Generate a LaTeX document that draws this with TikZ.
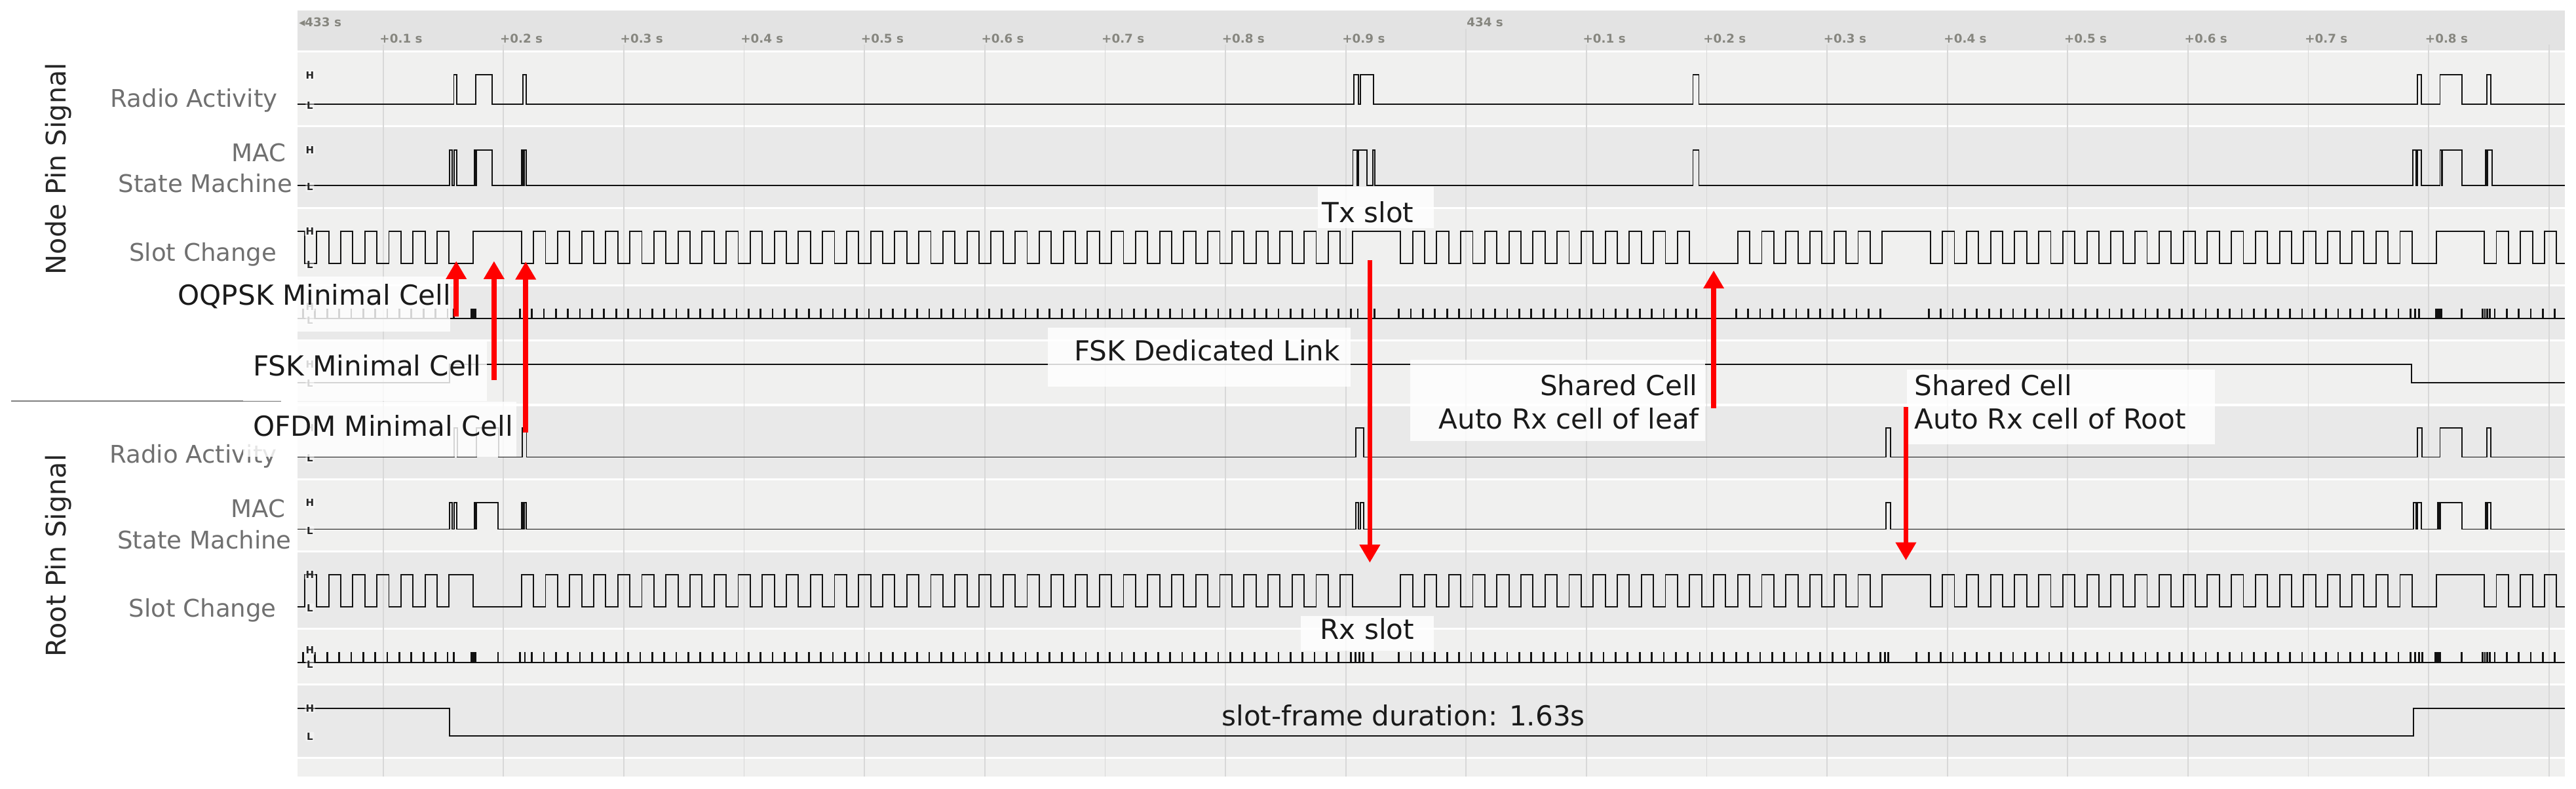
\documentclass[tikz,border=0pt]{standalone}
\usepackage{fontspec}
\setmainfont{DejaVu Sans}
\usetikzlibrary{arrows.meta}
\definecolor{laneL}{HTML}{F0F0EF}
\definecolor{laneD}{HTML}{E9E9E9}
\definecolor{hdr}{HTML}{E3E3E3}
\definecolor{gridc}{HTML}{D8D8D8}
\definecolor{ticklab}{HTML}{86867F}
\definecolor{lanelab}{HTML}{707070}
\definecolor{sigc}{HTML}{111111}
\definecolor{anntext}{HTML}{1A1A1A}
\definecolor{sepc}{HTML}{808080}
\tikzset{
 sig/.style={draw=sigc, line width=0.75pt, line join=miter},
 tk/.style={draw=sigc, line width=1.1pt},
 gridl/.style={draw=gridc, line width=0.7pt},
 tlab/.style={font=\fontsize{7.3}{8}\selectfont\bfseries, text=ticklab, inner sep=0pt, anchor=base west},
 llab/.style={font=\fontsize{14.8}{17}\selectfont, text=lanelab, inner sep=0pt, anchor=base east},
 rlab/.style={font=\fontsize{16.5}{19}\selectfont, text=black!85, inner sep=0pt, rotate=90, anchor=base},
 hl/.style={font=\fontsize{6}{7}\selectfont\bfseries, text=black!85, inner sep=0.7pt, fill=white, fill opacity=0.45, text opacity=1, rounded corners=0.8pt},
 annbox/.style={fill=white, fill opacity=0.82},
 anntxt/.style={font=\fontsize{16.8}{20}\selectfont, text=anntext, inner sep=0pt},
 redarr/.style={draw=red, line width=3pt, -{Triangle[width=12pt,length=11pt]}},
}
\begin{document}
\begin{tikzpicture}[x=1pt,y=-1pt]
\useasboundingbox (0,0) rectangle (1568,480.24);
\fill[white] (0,0) rectangle (1568,480.24);
% header and lanes
\fill[hdr] (181.1,6.4) rectangle (1561,30.6);
\foreach \a/\b/\c in {31.8/76.3/laneL, 77.5/126.1/laneD, 127.3/173.3/laneL, 174.5/206.8/laneD, 208.0/245.9/laneL, 247.1/291.2/laneD, 292.4/335.2/laneL, 336.4/382.3/laneD, 383.5/416.2/laneL, 417.4/460.6/laneD, 461.8/472.7/laneL}
  \fill[\c] (181.1,\a) rectangle (1561,\b);
% grid
\foreach \k in {1,...,9} \draw[gridl] ({160+73.24*\k},27.3) -- ({160+73.24*\k},472.7);
\foreach \k in {11,...,19} \draw[gridl] ({160+73.24*\k},27.3) -- ({160+73.24*\k},472.7);
\draw[gridl] (892.4,17.5) -- (892.4,472.7);
% time labels
\node[tlab] (t433) at (181.8,16.3) {◂433 s};
\node[tlab] (t434) at (892.6,16.3) {434 s};
\foreach \k in {1,...,9} \node[tlab] (ta\k) at ({160+73.24*\k-2.3},26.0) {+0.\k\ s};
\foreach \k in {1,...,8} \node[tlab] (tb\k) at ({892.4+73.24*\k-2.3},26.0) {+0.\k\ s};
% left labels
\node[rlab] (nps) at (40.2,102.7) {Node Pin Signal};
\node[rlab] (rps) at (40.2,338.2) {Root Pin Signal};
\draw[sepc, line width=1.1pt] (6.9,244.1) -- (171,244.1);
\node[llab] (ra1) at (169.2,65.2) {Radio Activity};
\node[llab] (mac1) at (174.3,98.4) {MAC};
\node[llab] (sm1) at (178.1,117.0) {State Machine};
\node[llab] (sc1) at (168.6,158.8) {Slot Change};
\node[llab] (ra2) at (168.7,281.9) {Radio Activity};
\node[llab] (mac2) at (173.7,315.1) {MAC};
\node[llab] (sm2) at (177.6,333.9) {State Machine};
\node[llab] (sc2) at (168.4,375.5) {Slot Change};
% ---------- signals ----------
% node radio activity
\draw[sig] (181.1,63.4) \foreach \a/\b in {276.2/278.0, 289.6/299.6, 318.3/320.4, 824.2/827.0, 828.2/836.2, 1030.5/1034.1, 1471.4/1473.7, 1485.2/1498.4, 1513.9/1516.0} { -| (\a,45.6) -| (\b,63.4) } -- (1561,63.4);
% node MAC
\draw[sig] (181.1,113.0) \foreach \a/\b in {273.6/275.3, 276.5/278.0, 288.8/289.6, 290.2/299.6, 317.4/318.2, 319.0/320.4, 823.5/826.0, 826.8/832.0, 835.8/836.8, 1030.5/1034.1, 1468.5/1470.5, 1471.3/1473.7, 1485.2/1486.0, 1486.7/1498.4, 1512.8/1513.6, 1514.3/1516.8} { -| (\a,91.3) -| (\b,113.0) } -- (1561,113.0);
% node slot change
\draw[sig] (181.1,140.9) \foreach \k [count=\i] in {-12,...,0,2,6,7,...,75,79,80,...,103,107,108,...,119,123,124,...,163,165,169,170,...,175} { -| ({273.4+7.33*\k},{140.9+19.4*mod(\i,2)}) } -- +(4.85,0);
% node ticks (OQPSK lane)
\draw[sig] (181.1,193.9) -- (1561,193.9);
\foreach \k in {-12,...,0,6,7,...,75,79,80,...,103,107,108,...,119,123,124,...,163,169,170,...,175}
  \draw[tk] ({272.4+7.33*\k},193.9) -- ({272.4+7.33*\k},187.7);
\foreach \x in {276.3,319.5,826.5,834.0,836.5,1032.5,1470.0,1472.5,1498.4,1512.5,1514.0,1515.5}
  \draw[tk] (\x,193.9) -- (\x,187.7);
\fill[sigc] (286.4,187.7) rectangle (290.0,193.9);
\fill[sigc] (1482.3,187.7) rectangle (1486.6,193.9);
% FSK lane
\draw[sig] (181.1,232.8) -| (273.5,221.8) -| (1468,232.8) -- (1561,232.8);
% root radio activity
\draw[sig] (181.1,278.2) \foreach \a/\b in {276.5/278.5, 290.0/303.5, 318.0/320.5, 825.3/829.9, 1148.0/1150.8, 1471.4/1474.2, 1485.2/1498.4, 1513.9/1516.0} { -| (\a,260.5) -| (\b,278.2) } -- (1561,278.2);
% root MAC
\draw[sig] (181.1,322.1) \foreach \a/\b in {273.6/275.3, 276.5/278.0, 288.8/289.6, 290.2/303.3, 317.4/318.2, 319.0/320.4, 825.3/827.0, 828.2/830.0, 1148.0/1150.8, 1469.1/1470.6, 1471.3/1473.7, 1483.7/1484.6, 1485.3/1498.4, 1512.8/1513.6, 1514.3/1516.0} { -| (\a,306.1) -| (\b,322.1) } -- (1561,322.1);
% root slot change
\draw[sig] (181.1,369.4) \foreach \k [count=\i] in {-12,...,0,2,6,7,...,75,79,80,...,119,123,124,...,163,165,169,170,...,175} { -| ({273.4+7.33*\k},{369.4-19.5*mod(\i,2)}) } -- +(4.85,0);
% root ticks
\draw[sig] (181.1,403.3) -- (1561,403.3);
\foreach \k in {-12,...,0,6,7,...,75,79,80,...,119,122,123,...,163,169,170,...,175}
  \draw[tk] ({272.4+7.33*\k},403.3) -- ({272.4+7.33*\k},396.9);
\foreach \x in {276.3,303.1,319.5,825.0,827.5,830.0,835.5,1147.5,1149.5,1470.0,1472.5,1474.5,1498.4,1512.5,1514.0,1515.5}
  \draw[tk] (\x,403.3) -- (\x,396.9);
\fill[sigc] (286.4,396.9) rectangle (290.0,403.3);
\fill[sigc] (1482.0,396.9) rectangle (1486.0,403.3);
% slot-frame lane
\draw[sig] (181.1,431.1) -| (273.6,447.9) -| (1469.1,431.1) -- (1561,431.1);
% H / L markers
\foreach \n/\h/\l in {1/45.7/64.4, 2/91.3/113.8, 3/140.9/161.0, 4/186.6/195.0, 5/221.8/233.4, 6/260.5/279.0, 7/306.1/322.9, 8/349.9/370.2, 9/395.8/404.4, 10/431.1/448.4}{
  \node[hl] (h\n) at (188.6,\h) {H};
  \node[hl] (l\n) at (188.6,\l) {L};
}
% ---------- annotation boxes ----------
\fill[annbox] (104,168.5) rectangle (274,202);
\fill[annbox] (148,206.8) rectangle (296.4,244.1);
\fill[annbox] (148,244.7) rectangle (314.2,277.9);
\fill[annbox] (638,199.4) rectangle (822,235.3);
\fill[annbox] (802.2,113.7) rectangle (872.8,138.9);
\fill[annbox] (858.4,219.1) rectangle (1037.7,268.6);
\fill[annbox] (1160.9,225.0) rectangle (1348,270.4);
\fill[annbox] (791.8,375.1) rectangle (872.6,395.9);
\node[anntxt, anchor=base east] (oqpsk) at (274.7,185.5) {OQPSK Minimal Cell};
\node[anntxt, anchor=base west] (fskmin) at (153.9,228.7) {FSK Minimal Cell};
\node[anntxt, anchor=base west] (ofdm) at (153.9,265.3) {OFDM Minimal Cell};
\node[anntxt, anchor=base east] (fskded) at (815.9,219.4) {FSK Dedicated Link};
\node[anntxt, anchor=base west] (txs) at (804.5,135.4) {Tx slot};
\node[anntxt, anchor=base east] (sl1) at (1033.5,240.6) {Shared Cell};
\node[anntxt, anchor=base east] (sl2) at (1034.4,260.9) {Auto Rx cell of leaf};
\node[anntxt, anchor=base west] (sr1) at (1165.2,240.7) {Shared Cell};
\node[anntxt, anchor=base west] (sr2) at (1165.2,260.9) {Auto Rx cell of Root};
\node[anntxt, anchor=base west] (rxs) at (803.4,389.0) {Rx slot};
\node[anntxt, anchor=base west] (sfd) at (743.5,441.7) {slot-frame duration: 1.63s};
% ---------- red arrows ----------
\coordinate (a1s) at (277.7,192.8); \coordinate (a1e) at (277.7,158.9);
\coordinate (a2s) at (300.7,231.4); \coordinate (a2e) at (300.7,158.9);
\coordinate (a3s) at (320.0,263.3); \coordinate (a3e) at (320.0,159.2);
\coordinate (a4s) at (833.8,158.3); \coordinate (a4e) at (833.8,342.5);
\coordinate (a5s) at (1043.1,248.3); \coordinate (a5e) at (1043.1,164.6);
\coordinate (a6s) at (1160.1,247.7); \coordinate (a6e) at (1160.1,341.1);
\draw[redarr] (a1s) -- (a1e);
\draw[redarr] (a2s) -- (a2e);
\draw[redarr] (a3s) -- (a3e);
\draw[redarr] (a4s) -- (a4e);
\draw[redarr] (a5s) -- (a5e);
\draw[redarr] (a6s) -- (a6e);
\end{tikzpicture}
\end{document}
